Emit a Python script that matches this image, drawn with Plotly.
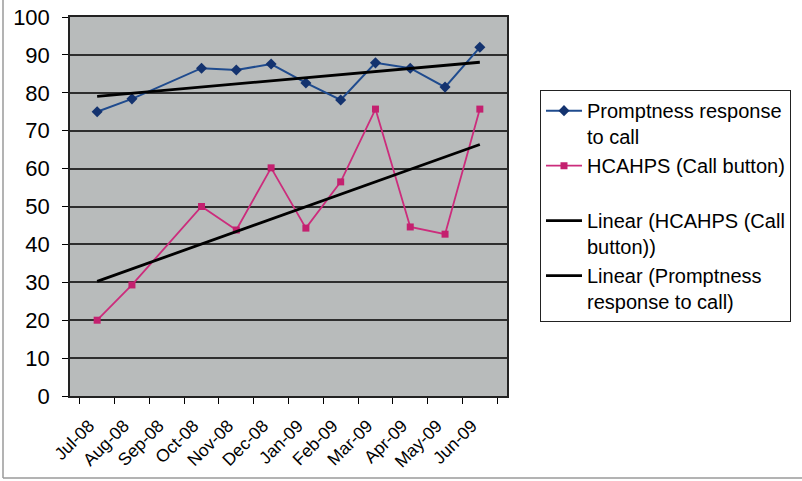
import numpy as np
import plotly.graph_objects as go

months = ["Jul-08", "Aug-08", "Sep-08", "Oct-08", "Nov-08", "Dec-08",
          "Jan-09", "Feb-09", "Mar-09", "Apr-09", "May-09", "Jun-09"]
promptness = [75.0, 78.4, None, 86.5, 86.0, 87.6, 82.6, 78.1, 87.9, 86.5, 81.5, 92.0]
hcahps = [20.0, 29.3, None, 50.0, 43.8, 60.2, 44.3, 56.5, 75.7, 44.6, 42.7, 75.7]
y_ticks = list(range(0, 101, 10))


def linear_trend(values):
    idx = [i for i, v in enumerate(values) if v is not None]
    vals = [values[i] for i in idx]
    slope, intercept = np.polyfit(np.array(idx) + 1, vals, 1)
    return [slope * (i + 1) + intercept for i in range(len(values))]


trend_h = linear_trend(hcahps)
trend_p = linear_trend(promptness)

FONT = "Liberation Sans, Arial, sans-serif"
BLUE = "#1f4b8e"
PINK = "#cc2c7c"

fig = go.Figure()
fig.add_trace(go.Scatter(
    x=months, y=promptness, mode="lines+markers", connectgaps=True,
    name="Promptness response<br>to call",
    line=dict(color=BLUE, width=2),
    marker=dict(symbol="diamond", size=8.5, color="#14336f"),
))
fig.add_trace(go.Scatter(
    x=months, y=hcahps, mode="lines+markers", connectgaps=True,
    name="HCAHPS (Call button)<br> ",
    line=dict(color=PINK, width=1.8),
    marker=dict(symbol="square", size=7, color="#c4206f"),
))
fig.add_trace(go.Scatter(
    x=months, y=trend_h, mode="lines",
    name="Linear (HCAHPS (Call<br>button))",
    line=dict(color="black", width=2.8),
))
fig.add_trace(go.Scatter(
    x=months, y=trend_p, mode="lines",
    name="Linear (Promptness<br>response to call)",
    line=dict(color="black", width=2.8),
))

fig.update_layout(
    width=802, height=481,
    margin=dict(l=70, r=295, t=17, b=85, autoexpand=False),
    paper_bgcolor="white",
    plot_bgcolor="#b8bbbb",
    font=dict(family=FONT, color="black"),
    showlegend=True,
    legend=dict(
        x=1.0755, y=0.807, xanchor="left", yanchor="top",
        bgcolor="white", bordercolor="#222", borderwidth=1,
        font=dict(size=20, family=FONT, color="black"),
        valign="top", tracegroupgap=0, itemwidth=36,
    ),
    shapes=[
        dict(type="line", xref="paper", yref="paper",
             x0=-67 / 437, x1=-67 / 437, y0=-82 / 379, y1=1.05,
             line=dict(color="#9a9a9a", width=1.5)),
        dict(type="line", xref="paper", yref="paper",
             x0=-67 / 437, x1=295 / 437 + 1, y0=-82 / 379, y1=-82 / 379,
             line=dict(color="#9a9a9a", width=1.5)),
    ],
)

fig.update_xaxes(
    type="category", categoryorder="array", categoryarray=months,
    tickson="boundaries", ticks="outside", ticklen=6, tickcolor="black",
    tickangle=-45, tickfont=dict(size=17.5, family=FONT, color="black"),
    ticklabelshift=-8, ticklabelstandoff=11,
    showline=True, linecolor="#222", linewidth=1.5, mirror=True,
    showgrid=False, zeroline=False,
)
fig.update_yaxes(
    range=[0, 100], tickvals=y_ticks, ticktext=[str(v) for v in y_ticks],
    ticks="outside", ticklen=6, tickcolor="black", ticklabelstandoff=8,
    tickfont=dict(size=22, family=FONT, color="black"),
    showline=True, linecolor="#222", linewidth=1.5, mirror=True,
    showgrid=True, gridcolor="#2e2e2e", gridwidth=1.5, zeroline=False,
)

fig.write_html(
    "out.html",
    config={"displayModeBar": False},
    post_script="document.body.style.margin='0';document.body.style.overflow='hidden';",
)
